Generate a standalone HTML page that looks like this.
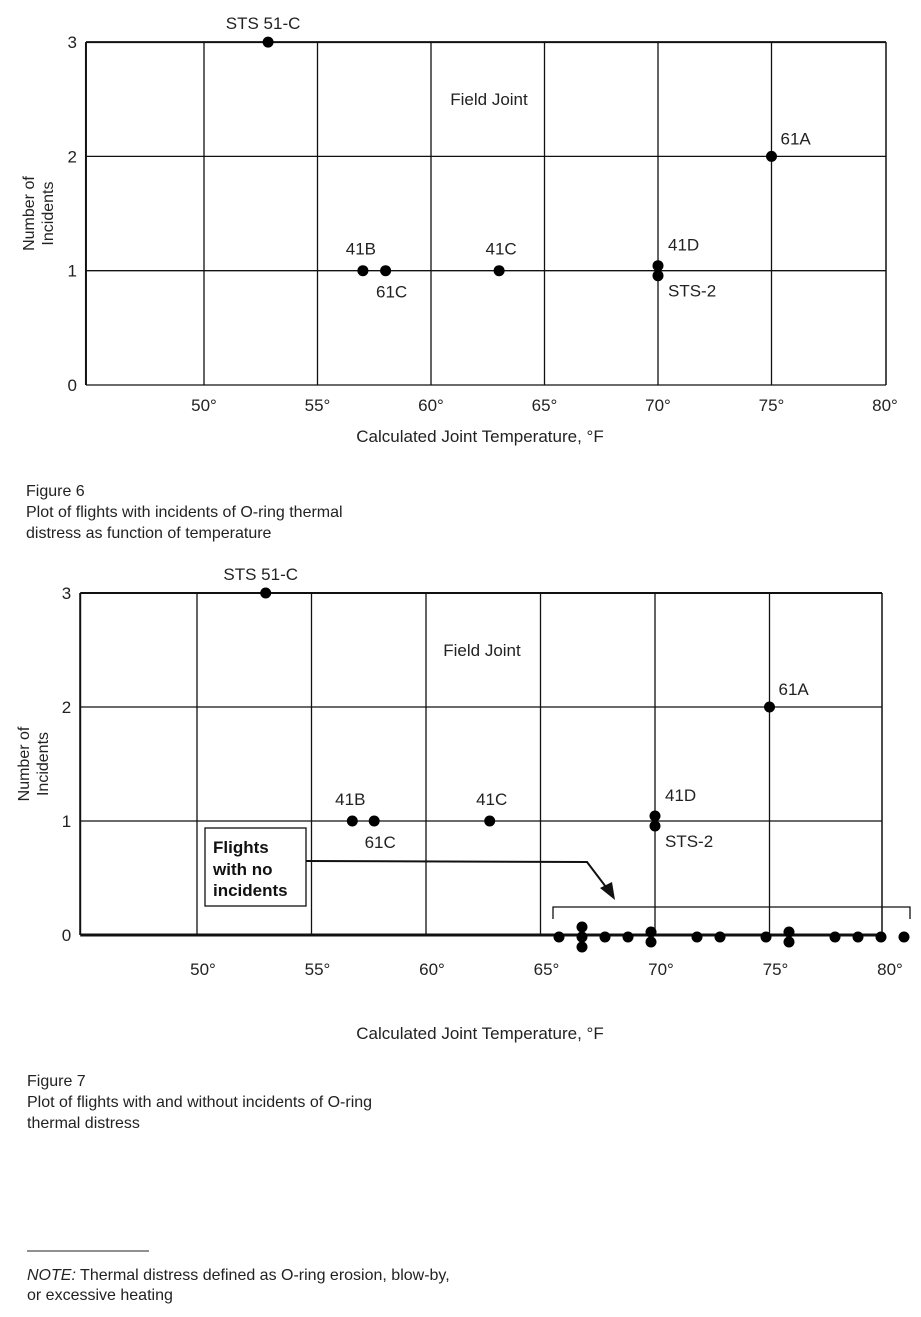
<!DOCTYPE html>
<html><head><meta charset="utf-8"><style>
html,body{margin:0;padding:0;background:#fff;}
svg{display:block;font-family:"Liberation Sans",Arial,sans-serif;}
</style></head><body>
<svg id="s" width="921" height="1317" viewBox="0 0 921 1317">
<g id="fig6"></g>
<g id="fig7"></g>
<g font-size="16" fill="#222">
<text x="26" y="496">Figure 6</text>
<text x="26" y="517">Plot of flights with incidents of O-ring thermal</text>
<text x="26" y="538">distress as function of temperature</text>
<text x="27" y="1086">Figure 7</text>
<text x="27" y="1107">Plot of flights with and without incidents of O-ring</text>
<text x="27" y="1128">thermal distress</text>
<line x1="27" y1="1251" x2="149" y2="1251" stroke="#222" stroke-width="1"/>
<text x="27" y="1280"><tspan font-style="italic">NOTE:</tspan> Thermal distress defined as O-ring erosion, blow-by,</text>
<text x="27" y="1300">or excessive heating</text>
</g>
</svg>
<script>
const xTicks=[50,55,60,65,70,75,80];
const xTickLabels=["50°","55°","60°","65°","70°","75°","80°"];
const yTicks=[0,1,2,3];
const incTemps=[53,57,58,63,70,70,75];
const incCounts=[3,1,1,1,1,1,2];
const incLabels=["STS 51-C","41B","61C","41C","41D","STS-2","61A"];
const zeroTemps=[66,67,67,67,68,69,70,70,72,73,75,76,76,78,79,80,81];
const zeroCounts=[0,0,0,0,0,0,0,0,0,0,0,0,0,0,0,0,0];

const NS="http://www.w3.org/2000/svg";
function mk(parent,tag,attrs,name){const e=document.createElementNS(NS,tag);for(const k in attrs)e.setAttribute(k,attrs[k]);


parent.appendChild(e);return e;}

function chart(g,c){
  const X=t=>c.x50+(t-50)*c.dx;
  const XZ=t=>c.zx66+(t-66)*c.zdx;
  const Y=v=>c.y0-v*c.dy;
  const left=X(c.tmin), right=c.right;
  yTicks.forEach(v=>{mk(g,'line',{x1:left,x2:right,y1:Y(v),y2:Y(v),stroke:'#111','stroke-width':(v===0&&c.thick0)?3:(v===3?2:1.3)},'y-grid-'+v);
    const t=mk(g,'text',{x:left-9,y:Y(v)+6,'font-size':17,'text-anchor':'end',fill:'#222'},'y-tick-'+v);t.textContent=v;});
  mk(g,'line',{x1:left,x2:left,y1:Y(3),y2:Y(0),stroke:'#111','stroke-width':2},'y-axis');
  mk(g,'line',{x1:right,x2:right,y1:Y(3),y2:Y(0),stroke:'#111','stroke-width':1.5},'right-border');
  xTicks.forEach((t,i)=>{if(X(t)<right-5)mk(g,'line',{x1:X(t),x2:X(t),y1:Y(3),y2:Y(0),stroke:'#111','stroke-width':1.3},'x-grid-'+t);
    const tx=mk(g,'text',{x:X(t)+c.labOff,y:c.tickY,'font-size':17,'text-anchor':'middle',fill:'#222'},'x-tick-'+t);tx.textContent=xTickLabels[i];});
  const yt=mk(g,'text',{transform:`translate(${c.ytx},${(Y(1)+Y(2))/2}) rotate(-90)`,'font-size':16,'text-anchor':'middle',fill:'#222'},'y-axis-title');
  const a=document.createElementNS(NS,'tspan');a.setAttribute('x',0);a.setAttribute('dy',-3);a.textContent='Number of';yt.appendChild(a);
  const b=document.createElementNS(NS,'tspan');b.setAttribute('x',0);b.setAttribute('dy',19);b.textContent='Incidents';yt.appendChild(b);
  const xt=mk(g,'text',{x:480,y:c.xtY,'font-size':17,'text-anchor':'middle',fill:'#222'},'x-axis-title');xt.textContent='Calculated Joint Temperature, °F';
  const fj=mk(g,'text',{x:c.fjx,y:Y(3)+63,'font-size':17,'text-anchor':'middle',fill:'#222'},'field-joint-label');fj.textContent='Field Joint';
  const offs=[0,0,0,0,-5,5,0];
  const lab=[[-5,-13,'middle'],[-2,-16,'middle'],[6,27,'middle'],[2,-16,'middle'],[10,-15,'start'],[10,21,'start'],[9,-12,'start']];
  incTemps.forEach((t,i)=>{const px=X(t)+c.ptx[i],py=Y(incCounts[i])+offs[i];
    mk(g,'circle',{cx:px,cy:py,r:5.5,fill:'#000'},'point-'+incLabels[i]);
    const l=mk(g,'text',{x:px+lab[i][0],y:py+lab[i][1],'font-size':17,'text-anchor':lab[i][2],fill:'#222'},'label-'+incLabels[i]);l.textContent=incLabels[i];});
  if(c.zero){
    const seen={};
    zeroTemps.forEach((t,i)=>{const k=seen[t]||0;seen[t]=k+1;const n=zeroTemps.filter(z=>z===t).length;
      const py=Y(zeroCounts[i])+2+(k-(n-1)/2)*10;
      mk(g,'circle',{cx:XZ(t),cy:py,r:5.5,fill:'#000'},'zero-point-'+t+'-'+k);});
    mk(g,'polyline',{points:`553,919 553,907 910,907 910,919`,fill:'none',stroke:'#111','stroke-width':1.3},'zero-bracket');
    mk(g,'rect',{x:205,y:828,width:101,height:78,fill:'#fff',stroke:'#111','stroke-width':1.3},'no-incident-box');
    [['Flights',853],['with no',875],['incidents',896]].forEach(([s,y],j)=>{const t=mk(g,'text',{x:213,y:y,'font-size':17,'font-weight':'bold',fill:'#111'},'no-incident-text-'+j);t.textContent=s;});
    mk(g,'polyline',{points:'306,861 587,862 609,891',fill:'none',stroke:'#111','stroke-width':2},'callout-arrow-line');
    mk(g,'polygon',{points:'615,900 600,888 612,882',fill:'#111'},'callout-arrowhead');
  }
}
chart(document.getElementById('fig6'),{x50:204,dx:22.7,y0:385,dy:114.3,tmin:44.8,right:886,tickY:411,labOff:0,ytx:37,xtY:442,fjx:489,ptx:[-4,0,0,0,0,0,0],thick0:false,zero:false});
chart(document.getElementById('fig7'),{x50:197,dx:22.9,y0:935,dy:114,tmin:44.9,right:882,tickY:975,labOff:6,ytx:32,xtY:1039,fjx:482,ptx:[0,-5,-6,-5,0,0,0],thick0:true,zero:true,zx66:559,zdx:23});
</script>
</body></html>
